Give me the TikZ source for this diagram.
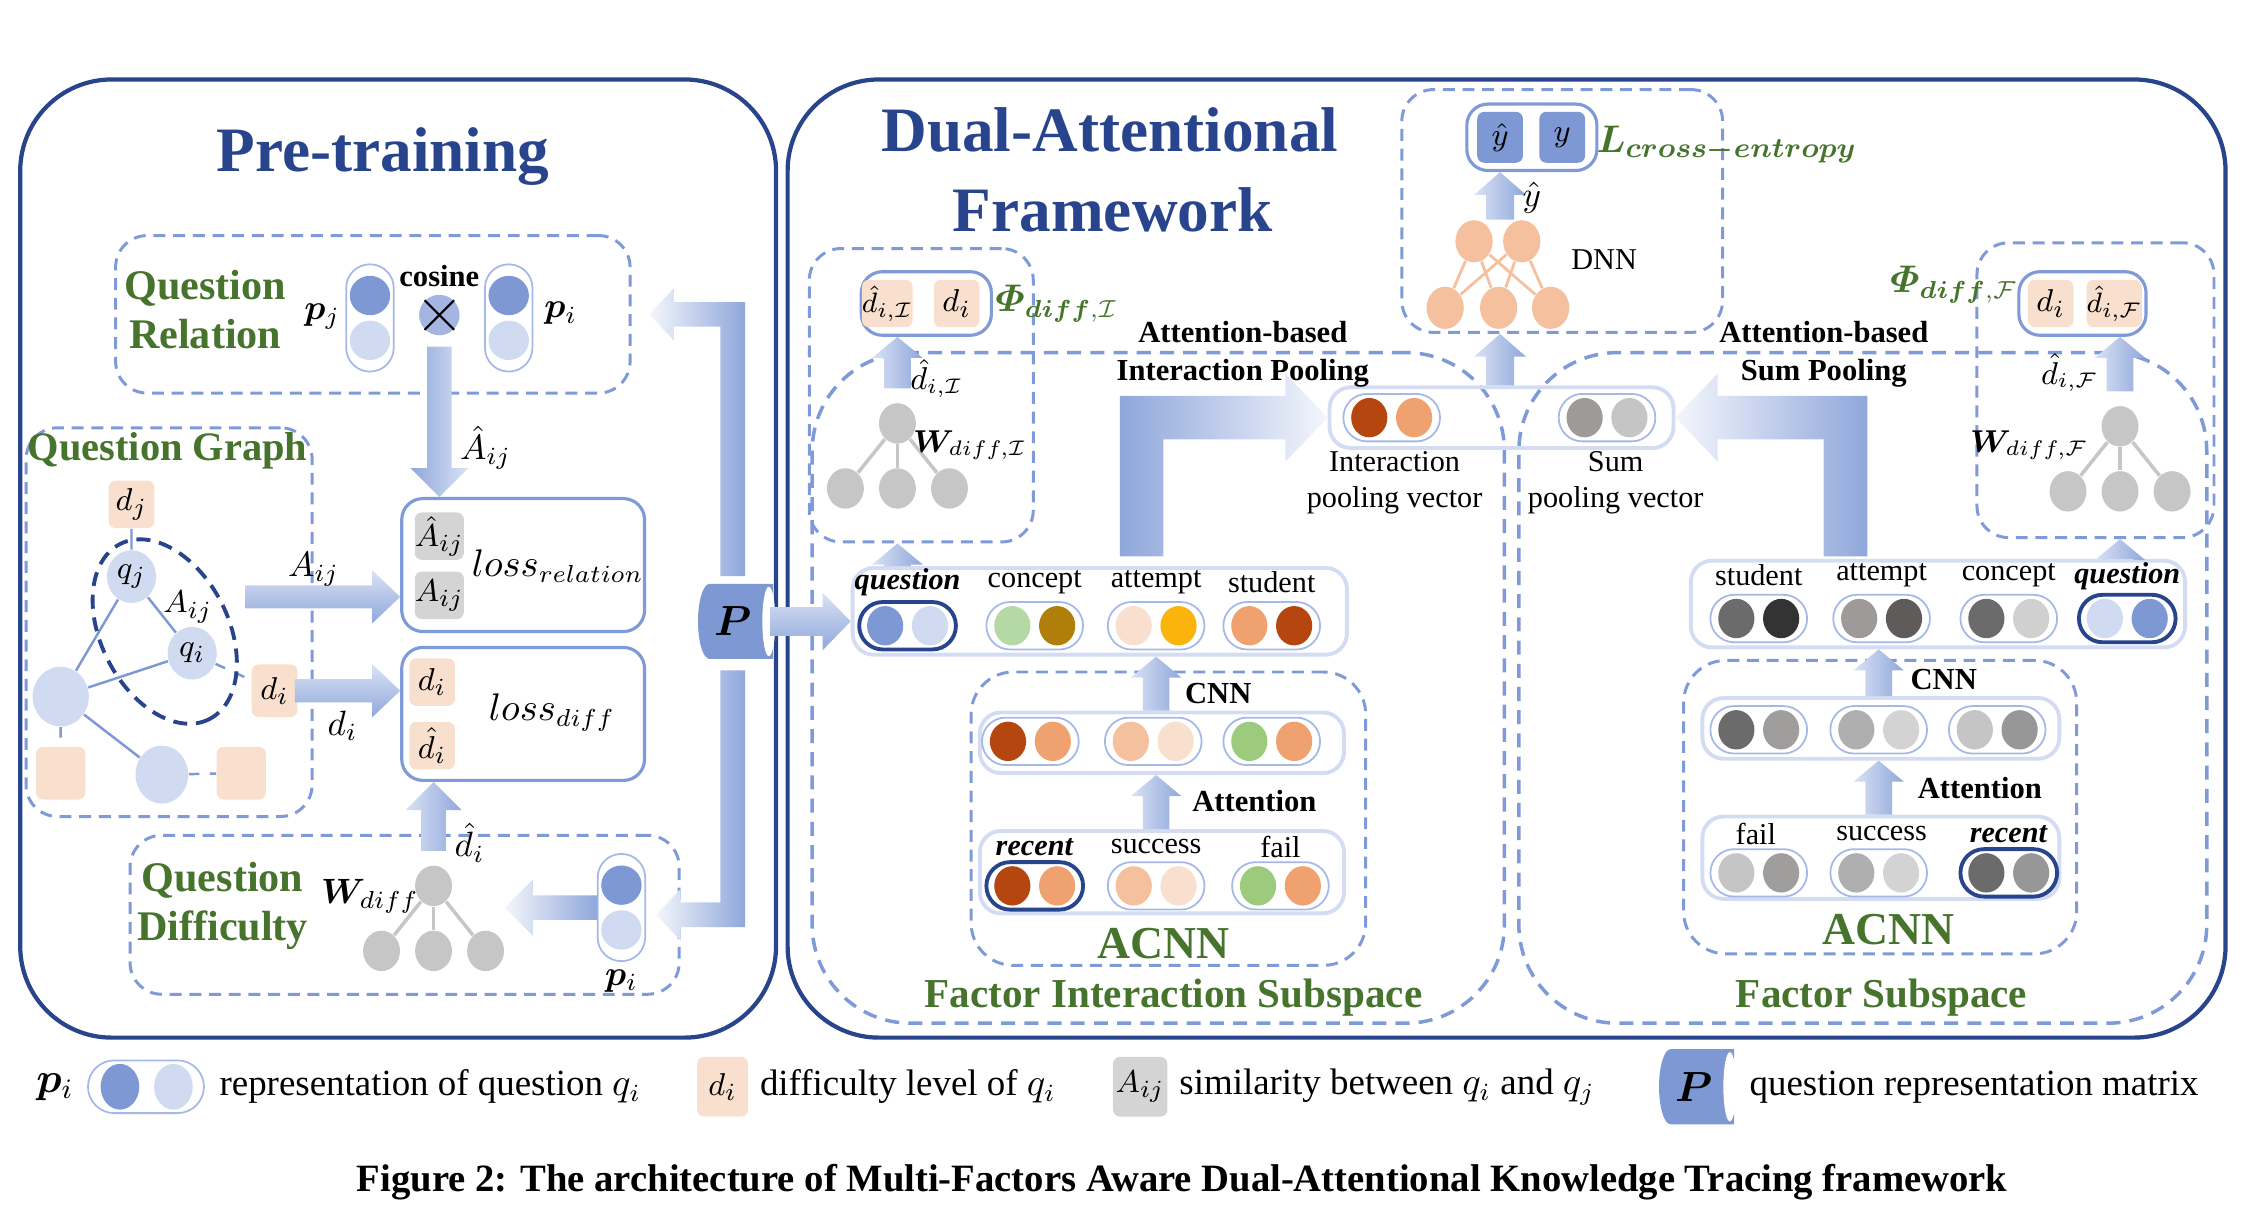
\documentclass[tikz,border=0pt]{standalone}
\usepackage{amsmath}
\usepackage{bm}
\usepackage{xcolor}
\usepackage{fontspec}
\setmainfont{Liberation Serif}
\usepackage{tikz}
\usetikzlibrary{shapes,calc,fit,positioning}

\definecolor{navy}{RGB}{40,68,140}
\definecolor{dashblue}{RGB}{127,154,216}
\definecolor{rowline}{RGB}{211,220,242}
\definecolor{pilline}{RGB}{165,184,230}
\definecolor{qdark}{RGB}{126,152,212}
\definecolor{qlight}{RGB}{208,218,240}
\definecolor{qmid}{RGB}{163,181,224}
\definecolor{peach}{RGB}{248,223,206}
\definecolor{simgray}{RGB}{212,212,212}
\definecolor{lblgreen}{RGB}{70,116,44}
\definecolor{treegray}{RGB}{198,198,198}
\definecolor{dnnorange}{RGB}{244,192,158}
\definecolor{arrdark}{RGB}{143,167,219}
\definecolor{arrlight}{RGB}{218,226,245}
\definecolor{arrwhite}{RGB}{244,246,252}
\definecolor{rust}{RGB}{181,70,15}
\definecolor{salmon}{RGB}{239,162,112}
\definecolor{lgreen}{RGB}{181,217,165}
\definecolor{gold}{RGB}{176,127,11}
\definecolor{amber}{RGB}{251,180,12}
\definecolor{midgreen}{RGB}{156,203,126}
\definecolor{apricot}{RGB}{244,192,158}
\definecolor{g1}{RGB}{107,107,107}
\definecolor{g2}{RGB}{51,51,51}
\definecolor{g3}{RGB}{158,154,154}
\definecolor{g4}{RGB}{95,91,91}
\definecolor{g5}{RGB}{208,208,208}
\definecolor{g6}{RGB}{160,157,157}
\definecolor{g7}{RGB}{175,175,175}
\definecolor{g8}{RGB}{211,211,211}
\definecolor{g9}{RGB}{197,197,197}
\definecolor{g10}{RGB}{151,151,151}

\def\asw{3.5pt}\def\ahw{7.5pt}\def\ahl{6pt}

% fat arrows, x of the start, tip on the end
\newcommand{\arup}[3][fatv]{\path[#1] let \p1=(#2), \p2=(#3) in (\x1-\asw,\y1) -- (\x1-\asw,\y2-\ahl) -- (\x1-\ahw,\y2-\ahl) -- (\x1,\y2) -- (\x1+\ahw,\y2-\ahl) -- (\x1+\asw,\y2-\ahl) -- (\x1+\asw,\y1) -- cycle;}
\newcommand{\ardown}[3][fatd]{\path[#1] let \p1=(#2), \p2=(#3) in (\x1-\asw,\y1) -- (\x1-\asw,\y2+\ahl) -- (\x1-\ahw,\y2+\ahl) -- (\x1,\y2) -- (\x1+\ahw,\y2+\ahl) -- (\x1+\asw,\y2+\ahl) -- (\x1+\asw,\y1) -- cycle;}
\newcommand{\arright}[3][fath]{\path[#1] let \p1=(#2), \p2=(#3) in (\x1,\y1+\asw) -- (\x2-\ahl,\y1+\asw) -- (\x2-\ahl,\y1+\ahw) -- (\x2,\y1) -- (\x2-\ahl,\y1-\ahw) -- (\x2-\ahl,\y1-\asw) -- (\x1,\y1-\asw) -- cycle;}
\newcommand{\arleft}[3][fatl]{\path[#1] let \p1=(#2), \p2=(#3) in (\x1,\y1+\asw) -- (\x2+\ahl,\y1+\asw) -- (\x2+\ahl,\y1+\ahw) -- (\x2,\y1) -- (\x2+\ahl,\y1-\ahw) -- (\x2+\ahl,\y1-\asw) -- (\x1,\y1-\asw) -- cycle;}
\newcommand{\elbowright}[3][fatr]{\path[#1] let \p1=(#2), \p2=(#3) in (\x1-\asw,\y1) -- (\x1-\asw,\y2+\asw) -- (\x2-\ahl,\y2+\asw) -- (\x2-\ahl,\y2+\ahw) -- (\x2,\y2) -- (\x2-\ahl,\y2-\ahw) -- (\x2-\ahl,\y2-\asw) -- (\x1+\asw,\y2-\asw) -- (\x1+\asw,\y1) -- cycle;}
\newcommand{\elbowleft}[3][fatl]{\path[#1] let \p1=(#2), \p2=(#3) in (\x1+\asw,\y1) -- (\x1+\asw,\y2+\asw) -- (\x2+\ahl,\y2+\asw) -- (\x2+\ahl,\y2+\ahw) -- (\x2,\y2) -- (\x2+\ahl,\y2-\ahw) -- (\x2+\ahl,\y2-\asw) -- (\x1-\asw,\y2-\asw) -- (\x1-\asw,\y1) -- cycle;}
\newcommand{\elbowdownleft}[3][fatl]{\path[#1] let \p1=(#2), \p2=(#3) in (\x1+\asw,\y1) -- (\x1+\asw,\y2-\asw) -- (\x2+\ahl,\y2-\asw) -- (\x2+\ahl,\y2-\ahw) -- (\x2,\y2) -- (\x2+\ahl,\y2+\ahw) -- (\x2+\ahl,\y2+\asw) -- (\x1-\asw,\y2+\asw) -- (\x1-\asw,\y1) -- cycle;}

% two-dot vectors
\newcommand{\pill}[6][pillbox]{%
  \node[#1] (#2) at (#3,#4) {};
  \node[dot, fill=#5] (#2a) at (#3-15.5,#4) {};
  \node[dot, fill=#6] (#2b) at (#3+15.5,#4) {};}
\newcommand{\vpill}[3]{%
  \node[vpillbox] (#1) at (#2,#3) {};
  \node[dot, fill=qdark, minimum width=11.5pt] (#1a) at (#2,#3-15.5) {};
  \node[dot, fill=qlight, minimum width=11.5pt] (#1b) at (#2,#3+15.5) {};}
\newcommand{\wtree}[3]{%
  \node[tnode] (#1t) at (#2,#3) {};
  \foreach \k/\dx in {1/-36,2/0,3/36} {
    \node[tnode] (#1\k) at ({#2+\dx},{#3+45}) {};
    \draw[tline] (#1t) -- (#1\k);
  }}
\newcommand{\pcyl}[3]{%
  \fill[qdark] ({#2+25},{#3-26}) -- ({#2-19},{#3-26}) arc[start angle=270, end angle=90, x radius=8, y radius=26] -- ({#2+25},{#3+26}) -- cycle;
  \fill[white] ({#2+22},#3) ellipse [x radius=4.5, y radius=24];
  \node[inner sep=0pt, minimum width=21pt, minimum height=21.4pt, font=\fontsize{12}{12}\selectfont] (#1) at (#2-3,#3) {$\bm{P}$};}

\begin{document}
\begin{tikzpicture}[x=0.01445cm, y=-0.01445cm]

\tikzstyle{frame} = [draw=navy, line width=1.2pt, rounded corners=26pt]
\tikzstyle{dashbox} = [draw=dashblue, line width=0.85pt, dash pattern=on 3.4pt off 2.2pt, rounded corners=9pt, inner sep=0pt]
\tikzstyle{subsp} = [dashbox, line width=1pt, dash pattern=on 4pt off 2.6pt, rounded corners=28pt]
\tikzstyle{lossbox} = [draw=dashblue, line width=0.9pt, rounded corners=6pt, inner sep=0pt]
\tikzstyle{rowbox} = [draw=rowline, line width=1.1pt, rounded corners=6pt, inner sep=0pt]
\tikzstyle{pillbox} = [draw=pilline, line width=0.5pt, rounded corners=6.7pt, minimum width=27.5pt, minimum height=13.5pt, inner sep=0pt]
\tikzstyle{pillkey} = [pillbox, draw=navy, line width=1.1pt]
\tikzstyle{vpillbox} = [pillbox, minimum width=13.5pt, minimum height=30.5pt]
\tikzstyle{dot} = [ellipse, minimum width=10.3pt, minimum height=11.2pt, inner sep=0pt]
\tikzstyle{sq} = [rounded corners=2pt, minimum width=13pt, minimum height=13.5pt, inner sep=0pt, font=\fontsize{9.5}{10}\selectfont]
\tikzstyle{tnode} = [ellipse, fill=treegray, minimum width=10.5pt, minimum height=11.5pt, inner sep=0pt]
\tikzstyle{tline} = [treegray, line width=1pt]
\tikzstyle{gnode} = [ellipse, fill=qlight, inner sep=0pt, minimum width=14pt, minimum height=15pt, font=\fontsize{9.5}{10}\selectfont]
\tikzstyle{gline} = [qdark, line width=0.7pt]
\tikzstyle{dnode} = [ellipse, fill=dnnorange, minimum width=10.6pt, minimum height=12pt, inner sep=0pt]
\tikzstyle{dline} = [dnnorange, line width=0.8pt]
\tikzstyle{title} = [navy, font=\fontsize{18}{20}\selectfont\bfseries]
\tikzstyle{glabel} = [lblgreen, align=center, font=\fontsize{12}{14}\selectfont\bfseries]
\tikzstyle{blabel} = [align=center, font=\fontsize{8.7}{10.7}\selectfont\bfseries]
\tikzstyle{rlabel} = [align=center, font=\fontsize{8.6}{10.3}\selectfont]
\tikzstyle{mlabel} = [inner sep=1pt, font=\fontsize{10}{11}\selectfont]
\tikzstyle{wlabel} = [inner sep=1pt, font=\fontsize{9}{10}\selectfont]
\tikzstyle{legtext} = [inner sep=1pt, font=\fontsize{10.5}{12}\selectfont]
\tikzstyle{fatv} = [left color=arrlight, right color=arrdark]
\tikzstyle{fatd} = [left color=arrdark, right color=arrlight]
\tikzstyle{fath} = [top color=arrlight, bottom color=arrdark]
\tikzstyle{fatl} = [left color=arrwhite, right color=arrdark]
\tikzstyle{fatr} = [left color=arrdark, right color=arrwhite]

\useasboundingbox (0,0) rectangle (1568,840);

% pre-training
\draw[frame] (14,55) rectangle (537,718);
\node[title] (pretr) at (265,108) {Pre-training};

\node[dashbox, fit={(80,163) (436,272)}] (qrel) {};
\node[glabel] (qrelt) at (142,214) {Question\\Relation};
\node[mlabel] (pjt) at (223,219) {$\bm{p}_j$};
\vpill{pjv}{256}{220}
\node[blabel, inner sep=1pt] (cost) at (304,191) {cosine};
\node[circle, fill=qmid, minimum size=11.5pt, inner sep=0pt] (cx) at (304,218) {};
\draw[line width=0.6pt] (cx.north west) -- (cx.south east) (cx.north east) -- (cx.south west);
\vpill{piv}{352}{220}
\node[mlabel] (pit) at (388,217) {$\bm{p}_i$};

\node[lossbox, fit={(278,345) (446,437)}] (lrel) {};
\node[sq, fill=simgray] (ahat) at (304,371) {$\hat{A}_{ij}$};
\node[sq, fill=simgray] (aij) at (304,412) {$A_{ij}$};
\node[mlabel, font=\fontsize{10.5}{12}\selectfont] (lrelt) at (386,392) {$loss_{relation}$};
\def\asw{3.5pt}\def\ahw{8.2pt}\def\ahl{8.2pt}
\ardown{[yshift=-3pt]cx.south}{lrel.north}
\node[mlabel] (ahl) at (336,310) {$\hat{A}_{ij}$};

% question graph
\node[dashbox, fit={(18,296) (216,565)}] (qg) {};
\node[glabel, font=\fontsize{11.5}{13}\selectfont\bfseries] (qgt) at (116,312) {Question Graph};
\node[sq, fill=peach] (dj) at (91,349) {$d_j$};
\node[gnode] (qj) at (91,399) {$q_j$};
\node[gnode] (qi) at (133,452) {$q_i$};
\node[gnode, minimum width=16pt, minimum height=17pt] (g1) at (42,482) {};
\node[gnode, minimum width=15pt, minimum height=16.5pt] (g2) at (112,536) {};
\node[sq, fill=peach, minimum width=14pt, minimum height=15pt] (pk1) at (42,535) {};
\node[sq, fill=peach, minimum width=14pt, minimum height=15pt] (pk2) at (167,535) {};
\node[sq, fill=peach, minimum height=15pt] (di) at (190,478) {$d_i$};
\draw[gline] (dj) -- (qj) (qj) -- (qi) (qj) -- (g1) (g1) -- (qi) (g1) -- (g2);
\draw[gline, dashed] (qi) -- (di) (g1) -- (pk1) (g2) -- (pk2);
\node[inner sep=1pt, font=\fontsize{9.5}{10}\selectfont] (aijt) at (130,420) {$A_{ij}$};
\draw[navy, line width=1.1pt, dash pattern=on 4pt off 2.5pt, shift={(114,437)}, rotate=-63] (0,0) ellipse [x radius=68, y radius=44];

\node[lossbox, fit={(278,448) (446,540)}] (ldiff) {};
\node[sq, fill=peach] (ld1) at (299,472) {$d_i$};
\node[sq, fill=peach] (ld2) at (299,516) {$\hat{d}_i$};
\node[mlabel, font=\fontsize{10.5}{12}\selectfont] (ldifft) at (382,493) {$loss_{diff}$};

\def\asw{3.3pt}\def\ahw{7.6pt}\def\ahl{8pt}
\coordinate (aS) at (170,413);
\arright{aS}{lrel.west}
\node[mlabel] (aijl) at (217,394) {$A_{ij}$};
\coordinate (dS) at (204,478);
\arright{dS}{ldiff.west}
\node[mlabel] (dil) at (237,502) {$d_i$};

% question difficulty
\node[dashbox, fit={(90,578) (470,688)}] (qdiff) {};
\node[glabel] (qdifft) at (154,627) {Question\\Difficulty};
\node[mlabel] (wdt) at (256,620) {$\bm{W}_{diff}$};
\wtree{td}{300}{613}
\def\asw{3.5pt}\def\ahw{8pt}\def\ahl{8pt}
\arup{[yshift=4pt]tdt.north}{ldiff.south}
\node[mlabel] (dhl) at (325,583) {$\hat{d}_i$};
\vpill{pv}{430}{628}
\node[mlabel] (pvt) at (430,679) {$\bm{p}_i$};
\arleft{pv.west}{pv.west -| td3.east}

\pcyl{P}{510}{430}
\def\asw{3.5pt}\def\ahw{7.4pt}\def\ahl{7pt}
\elbowleft{[yshift=2pt]P.north}{[xshift=5pt]qrel.east}
\elbowdownleft{[yshift=-3pt]P.south}{[xshift=-7pt]qdiff.east}

% dual-attentional
\draw[frame] (545,55) rectangle (1540,718);
\node[title] (dual) at (768,90) {Dual-Attentional};
\node[title] (fw) at (770,145) {Framework};

\node[subsp, fit={(562,244) (1041,708)}] (fis) {};
\node[subsp, fit={(1051,244) (1527,708)}] (fs) {};

% interaction side
\node[dashbox, fit={(560,172) (715,375)}] (phiL) {};
\node[lossbox, fit={(596,188) (686,232)}] (dboxL) {};
\node[sq, fill=peach, font=\fontsize{8.5}{9}\selectfont] (dhL) at (614,210) {$\hat{d}_{i,\mathcal{I}}$};
\node[sq, fill=peach] (diL) at (662,210) {$d_i$};
\node[glabel, inner sep=1pt, font=\fontsize{10.5}{12}\selectfont] (phiLt) at (731,210) {$\bm{\varPhi}_{\bm{diff},\mathcal{I}}$};
\wtree{tL}{621}{293}
\node[wlabel] (wLt) at (671,308) {$\bm{W}_{diff,\mathcal{I}}$};
\def\asw{3.8pt}\def\ahw{7.2pt}\def\ahl{6pt}
\arup{[yshift=4pt]tLt.north}{dboxL.south}
\node[wlabel] (dhLl) at (648,262) {$\hat{d}_{i,\mathcal{I}}$};

\node[rowbox, fit={(590,393) (932,453)}] (rowL) {};
\pill[pillkey]{qL}{628}{433}{qdark}{qlight}
\foreach \nm/\x/\ca/\cb in {cL/716/lgreen/gold, aL/800/peach/amber, sL/880/salmon/rust}
  {\pill{\nm}{\x}{433}{\ca}{\cb}}
\node[rlabel] (lbq) at (628,403) {\textbf{\textit{question}}};
\foreach \x/\lab in {716/concept, 800/attempt, 880/student}
  \node[rlabel] (lb\x) at (\x,403) {\lab};
\arup{rowL.north -| tL2}{phiL.south -| tL2}

\node[dashbox, rounded corners=12pt, fit={(672,465) (945,668)}] (acnnL) {};
\node[rowbox, fit={(678,493) (930,535)}] (midL) {};
\pill{m1L}{713}{513}{rust}{salmon}
\pill{m2L}{798}{513}{apricot}{peach}
\pill{m3L}{880}{513}{midgreen}{salmon}
\node[rowbox, fit={(678,575) (930,632)}] (botL) {};
\pill[pillkey]{rL}{716}{613}{rust}{salmon}
\pill{uL}{800}{613}{apricot}{peach}
\pill{fL}{886}{613}{midgreen}{salmon}
\node[rlabel] (lbr) at (716,586) {\textbf{\textit{recent}}};
\node[rlabel] (lbu) at (800,586) {success};
\node[rlabel] (lbf) at (886,586) {fail};
\arup{midL.north -| aL}{rowL.south -| aL}
\arup{botL.north -| aL}{midL.south -| aL}
\node[blabel] (cnnL) at (843,480) {CNN};
\node[blabel] (attL) at (868,554) {Attention};
\node[glabel, font=\fontsize{13}{14}\selectfont\bfseries] (acnnLt) at (805,653) {ACNN};
\node[glabel, font=\fontsize{11.7}{13}\selectfont\bfseries] (fist) at (812,690) {Factor Interaction Subspace};

\def\asw{4.1pt}\def\ahw{8.2pt}\def\ahl{8pt}
\arright{P.east}{rowL.west}

% pooling
\node[rowbox, fit={(920,268) (1158,310)}] (pool) {};
\pill{ipv}{963}{289}{rust}{salmon}
\pill{spv}{1112}{289}{g3}{g9}
\node[rlabel] (ipvt) at (965,334) {Interaction\\pooling vector};
\node[rlabel] (spvt) at (1118,334) {Sum\\pooling vector};
\def\asw{6.2pt}\def\ahw{12.5pt}\def\ahl{12pt}
\coordinate (iS) at (790,385);
\coordinate (sS) at (1277,385);
\elbowright{iS}{pool.west}
\elbowleft{sS}{pool.east}
\node[blabel] (ipt) at (860,245) {Attention-based\\Interaction Pooling};
\node[blabel] (spt) at (1262,245) {Attention-based\\Sum Pooling};

% prediction
\node[dashbox, fit={(970,62) (1192,230)}] (dnnbox) {};
\node[lossbox, fit={(1015,72) (1105,118)}] (ybox) {};
\node[sq, fill=qdark, minimum height=14.5pt] (yh) at (1038,95) {$\hat{y}$};
\node[sq, fill=qdark, minimum height=14.5pt] (yt) at (1081,95) {$y$};
\node[glabel, inner sep=1pt, font=\fontsize{11}{12}\selectfont] (lcet) at (1195,100) {$\bm{L}_{\bm{cross-entropy}}$};
\foreach \i/\x in {1/1020, 2/1053}
  \node[dnode] (dt\i) at (\x,167) {};
\foreach \j/\x in {1/1000, 2/1037, 3/1073}
  \node[dnode] (db\j) at (\x,213) {};
\foreach \i in {1,2}
  \foreach \j in {1,2,3}
    \draw[dline] (dt\i) -- (db\j);
\node[rlabel] (dnnt) at (1110,180) {DNN};
\def\asw{4pt}\def\ahw{7.4pt}\def\ahl{6.5pt}
\arup{dt1.north -| yh}{ybox.south}
\node[mlabel] (yhl) at (1060,137) {$\hat{y}$};
\arup{pool.north -| yh}{dnnbox.south -| yh}

% factor side
\node[dashbox, fit={(1368,168) (1532,372)}] (phiR) {};
\node[lossbox, fit={(1397,188) (1485,232)}] (dboxR) {};
\node[sq, fill=peach] (diR) at (1419,210) {$d_i$};
\node[sq, fill=peach, font=\fontsize{8.5}{9}\selectfont] (dhR) at (1463,210) {$\hat{d}_{i,\mathcal{F}}$};
\node[glabel, inner sep=1pt, font=\fontsize{10.5}{12}\selectfont] (phiRt) at (1352,197) {$\bm{\varPhi}_{\bm{diff},\mathcal{F}}$};
\wtree{tR}{1467}{295}
\node[wlabel] (wRt) at (1404,308) {$\bm{W}_{diff,\mathcal{F}}$};
\def\asw{3.8pt}\def\ahw{7.2pt}\def\ahl{6pt}
\arup{[yshift=4pt]tRt.north}{dboxR.south}
\node[wlabel] (dhRl) at (1432,258) {$\hat{d}_{i,\mathcal{F}}$};

\node[rowbox, fit={(1170,388) (1512,448)}] (rowR) {};
\foreach \nm/\x/\ca/\cb in {stR/1217/g1/g2, atR/1302/g3/g4, coR/1390/g1/g5}
  {\pill{\nm}{\x}{428}{\ca}{\cb}}
\pill[pillkey]{qR}{1472}{428}{qlight}{qdark}
\foreach \x/\lab in {1217/student, 1302/attempt, 1390/concept}
  \node[rlabel] (lb\x) at (\x,398) {\lab};
\node[rlabel] (lbqR) at (1472,399) {\textbf{\textit{question}}};
\arup{rowR.north -| tR2}{phiR.south -| tR2}

\node[dashbox, rounded corners=12pt, fit={(1165,457) (1437,660)}] (acnnR) {};
\node[rowbox, fit={(1178,483) (1425,525)}] (midR) {};
\pill{m1R}{1217}{505}{g1}{g6}
\pill{m2R}{1300}{505}{g7}{g8}
\pill{m3R}{1382}{505}{g9}{g10}
\node[rowbox, fit={(1178,565) (1425,622)}] (botR) {};
\pill{fR}{1217}{604}{g9}{g6}
\pill{uR}{1300}{604}{g7}{g8}
\pill[pillkey]{rR}{1390}{604}{g1}{g10}
\node[rlabel] (lbfR) at (1215,577) {fail};
\node[rlabel] (lbuR) at (1302,577) {success};
\node[rlabel] (lbrR) at (1390,577) {\textbf{\textit{recent}}};
\arup{midR.north -| m2R}{rowR.south -| m2R}
\arup{botR.north -| m2R}{midR.south -| m2R}
\node[blabel] (cnnR) at (1345,470) {CNN};
\node[blabel] (attR) at (1370,545) {Attention};
\node[glabel, font=\fontsize{13}{14}\selectfont\bfseries] (acnnRt) at (1307,643) {ACNN};
\node[glabel, font=\fontsize{11.7}{13}\selectfont\bfseries] (fst) at (1302,690) {Factor Subspace};

% legend
\node[font=\fontsize{12}{12}\selectfont] (lgp) at (38,752) {$\bm{p}_i$};
\node[pillbox, minimum width=33pt, minimum height=15pt, rounded corners=7.5pt] (lgpill) at (101,752) {};
\node[dot, fill=qdark, minimum width=11pt, minimum height=13pt] (lgpa) at (83,752) {};
\node[dot, fill=qlight, minimum width=11pt, minimum height=13pt] (lgpb) at (120,752) {};
\node[legtext, right=3pt of lgpill] (lg1) {representation of question $q_i$};
\node[sq, fill=peach, minimum width=14.5pt, minimum height=17pt] (lgd) at (500,752) {$d_i$};
\node[legtext, right=2pt of lgd] (lg2) {difficulty level of $q_i$};
\node[sq, fill=simgray, minimum width=15.5pt, minimum height=17pt] (lga) at (789,752) {$A_{ij}$};
\node[legtext, right=2pt of lga] (lg3) {similarity between $q_i$ and $q_j$};
\pcyl{lgP}{1175}{752}
\node[legtext, right=4pt of lgP] (lg4) {question representation matrix};

\node[font=\fontsize{11}{13}\selectfont\bfseries] (cap) at (818,818) {Figure 2: The architecture of Multi-Factors Aware Dual-Attentional Knowledge Tracing framework};

\end{tikzpicture}
\end{document}
